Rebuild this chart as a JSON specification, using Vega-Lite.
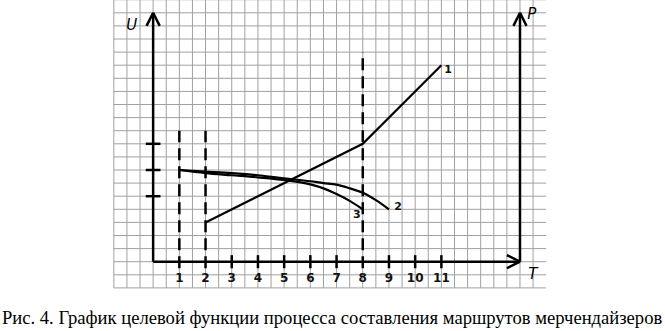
{
  "$schema": "https://vega.github.io/schema/vega-lite/v6.json",
  "width": 665,
  "height": 331,
  "autosize": {"type": "none"},
  "padding": 0,
  "background": "white",
  "config": {"view": {"stroke": null}},
  "datasets": {
    "vgrid": [{"t":-1.5},{"t":-1},{"t":-0.5},{"t":0},{"t":0.5},{"t":1},{"t":1.5},{"t":2},{"t":2.5},{"t":3},{"t":3.5},{"t":4},{"t":4.5},{"t":5},{"t":5.5},{"t":6},{"t":6.5},{"t":7},{"t":7.5},{"t":8},{"t":8.5},{"t":9},{"t":9.5},{"t":10},{"t":10.5},{"t":11},{"t":11.5},{"t":12},{"t":12.5},{"t":13},{"t":13.5},{"t":14},{"t":14.5}],
    "hgrid": [{"u":-1},{"u":-0.5},{"u":0},{"u":0.5},{"u":1},{"u":1.5},{"u":2},{"u":2.5},{"u":3},{"u":3.5},{"u":4},{"u":4.5},{"u":5},{"u":5.5},{"u":6},{"u":6.5},{"u":7},{"u":7.5},{"u":8},{"u":8.5},{"u":9},{"u":9.5},{"u":10}],
    "segs": [
      {"x1":0,"y1":0,"x2":0,"y2":9.5},
      {"x1":0,"y1":9.5,"x2":-0.25,"y2":9.0},
      {"x1":0,"y1":9.5,"x2":0.25,"y2":9.0},
      {"x1":0,"y1":0,"x2":14,"y2":0},
      {"x1":14,"y1":0,"x2":13.5,"y2":0.25},
      {"x1":14,"y1":0,"x2":13.5,"y2":-0.25},
      {"x1":14,"y1":0,"x2":14,"y2":9.5},
      {"x1":14,"y1":9.5,"x2":13.75,"y2":9.0},
      {"x1":14,"y1":9.5,"x2":14.25,"y2":9.0},
      {"x1":3,"y1":-0.25,"x2":3,"y2":0.25},
      {"x1":4,"y1":-0.25,"x2":4,"y2":0.25},
      {"x1":5,"y1":-0.25,"x2":5,"y2":0.25},
      {"x1":6,"y1":-0.25,"x2":6,"y2":0.25},
      {"x1":7,"y1":-0.25,"x2":7,"y2":0.25},
      {"x1":9,"y1":-0.25,"x2":9,"y2":0.25},
      {"x1":10,"y1":-0.25,"x2":10,"y2":0.25},
      {"x1":11,"y1":-0.25,"x2":11,"y2":0.25},
      {"x1":-0.28,"y1":2.5,"x2":0.28,"y2":2.5},
      {"x1":-0.28,"y1":3.5,"x2":0.28,"y2":3.5},
      {"x1":-0.28,"y1":4.5,"x2":0.28,"y2":4.5}
    ],
    "dashes": [
      {"x1":1,"y1":-0.25,"x2":1,"y2":5},
      {"x1":2,"y1":-0.25,"x2":2,"y2":5},
      {"x1":8,"y1":-0.25,"x2":8,"y2":8}
    ],
    "line1": [{"t":2,"u":1.5},{"t":8,"u":4.5},{"t":11,"u":7.5}],
    "curves": [
      {"s":"2","t":1,"u":3.5},{"s":"2","t":2,"u":3.44},{"s":"2","t":3,"u":3.38},{"s":"2","t":4,"u":3.3},{"s":"2","t":5,"u":3.18},{"s":"2","t":6,"u":3.07},{"s":"2","t":6.5,"u":3.0},{"s":"2","t":7,"u":2.94},{"s":"2","t":7.5,"u":2.8},{"s":"2","t":8,"u":2.63},{"s":"2","t":8.5,"u":2.35},{"s":"2","t":9,"u":2.0},
      {"s":"3","t":1,"u":3.5},{"s":"3","t":2,"u":3.38},{"s":"3","t":3,"u":3.3},{"s":"3","t":4,"u":3.22},{"s":"3","t":5,"u":3.12},{"s":"3","t":6,"u":2.95},{"s":"3","t":6.5,"u":2.8},{"s":"3","t":7,"u":2.58},{"s":"3","t":7.5,"u":2.32},{"s":"3","t":8,"u":2.0}
    ],
    "ticklabels": [{"t":1,"u":-0.62,"txt":"1"},{"t":2,"u":-0.62,"txt":"2"},{"t":3,"u":-0.62,"txt":"3"},{"t":4,"u":-0.62,"txt":"4"},{"t":5,"u":-0.62,"txt":"5"},{"t":6,"u":-0.62,"txt":"6"},{"t":7,"u":-0.62,"txt":"7"},{"t":8,"u":-0.62,"txt":"8"},{"t":9,"u":-0.62,"txt":"9"},{"t":10,"u":-0.62,"txt":"10"},{"t":11,"u":-0.62,"txt":"11"}],
    "curvelabels": [{"t":11.26,"u":7.32,"txt":"1"},{"t":9.35,"u":2.09,"txt":"2"},{"t":7.77,"u":1.78,"txt":"3"}],
    "axislabels": [{"t":-0.82,"u":9.03,"txt":"U"},{"t":14.45,"u":9.45,"txt":"P"},{"t":14.49,"u":-0.47,"txt":"T"}],
    "caption": [{"t":6.83,"u":-2.37,"txt":"Рис. 4. График целевой функции процесса составления маршрутов мерчендайзеров"}]
  },
  "layer": [
    {
      "data": {"name": "vgrid"},
      "mark": {"type": "rule", "stroke": "#a0a0a0", "strokeWidth": 1},
      "encoding": {
        "x": {"field": "t", "type": "quantitative", "scale": {"domain": [-5.844, 19.534], "nice": false, "zero": false}, "axis": null},
        "y": {"datum": -1, "type": "quantitative", "scale": {"domain": [-2.645, 9.989], "nice": false, "zero": false}, "axis": null},
        "y2": {"datum": 10}
      }
    },
    {
      "data": {"name": "hgrid"},
      "mark": {"type": "rule", "stroke": "#a0a0a0", "strokeWidth": 1},
      "encoding": {
        "y": {"field": "u", "type": "quantitative", "scale": {"domain": [-2.645, 9.989], "nice": false, "zero": false}, "axis": null},
        "x": {"datum": -1.5, "type": "quantitative", "scale": {"domain": [-5.844, 19.534], "nice": false, "zero": false}, "axis": null},
        "x2": {"datum": 15}
      }
    },
    {
      "data": {"name": "segs"},
      "mark": {"type": "rule", "stroke": "black", "strokeWidth": 2.5},
      "encoding": {
        "x": {"field": "x1", "type": "quantitative", "scale": {"domain": [-5.844, 19.534], "nice": false, "zero": false}, "axis": null},
        "y": {"field": "y1", "type": "quantitative", "scale": {"domain": [-2.645, 9.989], "nice": false, "zero": false}, "axis": null},
        "x2": {"field": "x2"},
        "y2": {"field": "y2"}
      }
    },
    {
      "data": {"name": "dashes"},
      "mark": {"type": "rule", "stroke": "black", "strokeWidth": 2.5, "strokeDash": [12, 6]},
      "encoding": {
        "x": {"field": "x1", "type": "quantitative", "scale": {"domain": [-5.844, 19.534], "nice": false, "zero": false}, "axis": null},
        "y": {"field": "y1", "type": "quantitative", "scale": {"domain": [-2.645, 9.989], "nice": false, "zero": false}, "axis": null},
        "x2": {"field": "x2"},
        "y2": {"field": "y2"}
      }
    },
    {
      "data": {"name": "line1"},
      "mark": {"type": "line", "stroke": "black", "strokeWidth": 2.2},
      "encoding": {
        "x": {"field": "t", "type": "quantitative", "scale": {"domain": [-5.844, 19.534], "nice": false, "zero": false}, "axis": null},
        "y": {"field": "u", "type": "quantitative", "scale": {"domain": [-2.645, 9.989], "nice": false, "zero": false}, "axis": null}
      }
    },
    {
      "data": {"name": "curves"},
      "mark": {"type": "line", "stroke": "black", "strokeWidth": 2.2, "interpolate": "monotone"},
      "encoding": {
        "x": {"field": "t", "type": "quantitative", "scale": {"domain": [-5.844, 19.534], "nice": false, "zero": false}, "axis": null},
        "y": {"field": "u", "type": "quantitative", "scale": {"domain": [-2.645, 9.989], "nice": false, "zero": false}, "axis": null},
        "detail": {"field": "s", "type": "nominal"}
      }
    },
    {
      "data": {"name": "ticklabels"},
      "mark": {"type": "text", "font": "DejaVu Sans", "fontSize": 12, "fontWeight": "bold", "fill": "#111", "align": "center", "baseline": "middle"},
      "encoding": {
        "x": {"field": "t", "type": "quantitative", "scale": {"domain": [-5.844, 19.534], "nice": false, "zero": false}, "axis": null},
        "y": {"field": "u", "type": "quantitative", "scale": {"domain": [-2.645, 9.989], "nice": false, "zero": false}, "axis": null},
        "text": {"field": "txt"}
      }
    },
    {
      "data": {"name": "curvelabels"},
      "mark": {"type": "text", "font": "DejaVu Sans", "fontSize": 11, "fontWeight": "bold", "fill": "#111", "align": "center", "baseline": "middle"},
      "encoding": {
        "x": {"field": "t", "type": "quantitative", "scale": {"domain": [-5.844, 19.534], "nice": false, "zero": false}, "axis": null},
        "y": {"field": "u", "type": "quantitative", "scale": {"domain": [-2.645, 9.989], "nice": false, "zero": false}, "axis": null},
        "text": {"field": "txt"}
      }
    },
    {
      "data": {"name": "axislabels"},
      "mark": {"type": "text", "font": "DejaVu Sans", "fontSize": 15, "fontStyle": "italic", "fill": "black", "align": "center", "baseline": "middle"},
      "encoding": {
        "x": {"field": "t", "type": "quantitative", "scale": {"domain": [-5.844, 19.534], "nice": false, "zero": false}, "axis": null},
        "y": {"field": "u", "type": "quantitative", "scale": {"domain": [-2.645, 9.989], "nice": false, "zero": false}, "axis": null},
        "text": {"field": "txt"}
      }
    },
    {
      "data": {"name": "caption"},
      "mark": {"type": "text", "font": "Liberation Serif", "fontSize": 18.6, "fill": "black", "align": "center", "baseline": "alphabetic"},
      "encoding": {
        "x": {"field": "t", "type": "quantitative", "scale": {"domain": [-5.844, 19.534], "nice": false, "zero": false}, "axis": null},
        "y": {"field": "u", "type": "quantitative", "scale": {"domain": [-2.645, 9.989], "nice": false, "zero": false}, "axis": null},
        "text": {"field": "txt"}
      }
    }
  ]
}
